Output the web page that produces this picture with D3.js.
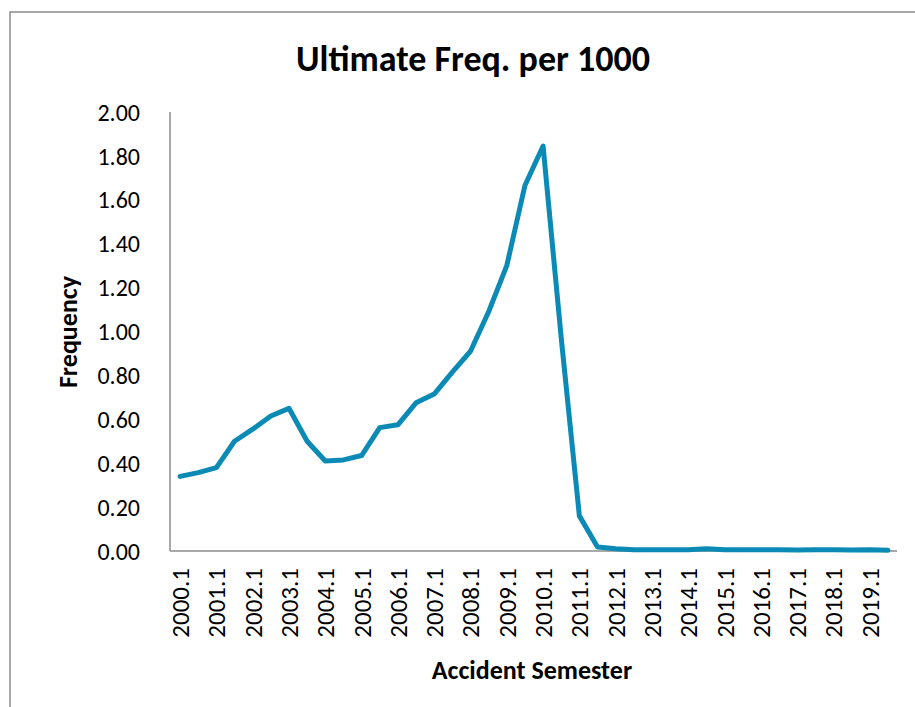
<!DOCTYPE html>
<html><head><meta charset="utf-8">
<script src="https://cdn.jsdelivr.net/npm/d3@7"></script>
<style>
html,body{margin:0;padding:0;background:#fff;overflow:hidden;}
text{font-family:Carlito, Calibri, Lato, "Open Sans", sans-serif;fill:#000;}
</style></head>
<body>
<svg id="chart" width="915" height="707"></svg>
<script>
const categories = [];
for (let y = 2000; y <= 2019; y++) { categories.push(y + ".1"); categories.push(y + ".2"); }
const frequency = [0.34,0.357,0.38,0.50,0.555,0.615,0.65,0.50,0.41,0.415,
  0.435,0.562,0.575,0.675,0.715,0.815,0.91,1.09,1.30,1.665,
  1.845,0.97,0.16,0.018,0.01,0.006,0.006,0.006,0.006,0.01,
  0.006,0.006,0.006,0.006,0.004,0.006,0.006,0.004,0.006,0.003];
const yTicks = [0,0.2,0.4,0.6,0.8,1.0,1.2,1.4,1.6,1.8,2.0];
const title = "Ultimate Freq. per 1000";
const xTitle = "Accident Semester";
const yTitle = "Frequency";

const svg = d3.select("#chart");
svg.append("rect").attr("x",10).attr("y",12).attr("width",930).attr("height",730)
  .attr("fill","#fff").attr("stroke","#8a8a8a").attr("stroke-width",1.5);

const x = d3.scalePoint().domain(categories).range([171, 897]).padding(0.5);
const y = d3.scaleLinear().domain([0,2]).range([551,112]);

// y tick labels
svg.append("g").selectAll("text").data(yTicks).join("text")
  .attr("x",140).attr("y",d=>y(d)).attr("dy","0.36em")
  .attr("text-anchor","end").style("font-size","24px")
  .text(d=>d.toFixed(2));

// x tick labels (every other category)
svg.append("g").selectAll("text").data(categories.filter((c,i)=>i%2===0)).join("text")
  .attr("transform",d=>`translate(${x(d)},568) rotate(-90)`)
  .attr("dy","0.36em").attr("text-anchor","end").style("font-size","25px")
  .text(d=>d);

// axes lines
svg.append("line").attr("x1",170).attr("x2",170).attr("y1",112).attr("y2",551)
  .attr("stroke","#8c8c8c").attr("stroke-width",1.5);
svg.append("line").attr("x1",170).attr("x2",897).attr("y1",551).attr("y2",551)
  .attr("stroke","#8c8c8c").attr("stroke-width",1.5);

// line
const line = d3.line().x((d,i)=>x(categories[i])).y(d=>y(d));
svg.append("path").datum(frequency).attr("d",line)
  .attr("fill","none").attr("stroke","#0a8ab4").attr("stroke-width",5)
  .attr("stroke-linejoin","round").attr("stroke-linecap","round");

// titles
svg.append("text").attr("x",473).attr("y",58).attr("dy","0.36em")
  .attr("text-anchor","middle").style("font-size","36px").style("font-weight","bold")
  .text(title);
svg.append("text").attr("x",532).attr("y",670).attr("dy","0.36em")
  .attr("text-anchor","middle").style("font-size","26px").style("font-weight","bold")
  .text(xTitle);
svg.append("text").attr("transform","translate(68,332) rotate(-90)").attr("dy","0.36em")
  .attr("text-anchor","middle").style("font-size","26px").style("font-weight","bold")
  .text(yTitle);
</script>
</body></html>
